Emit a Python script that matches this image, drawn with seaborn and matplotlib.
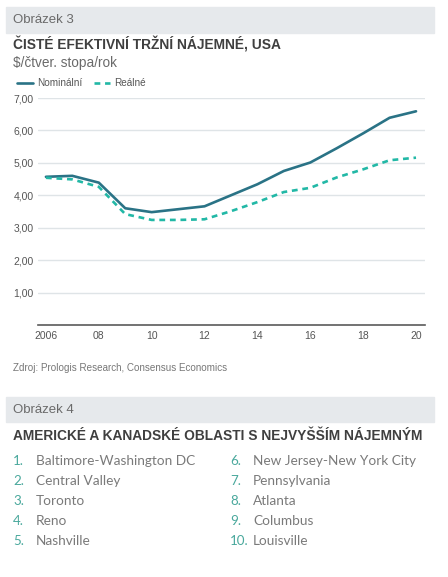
import matplotlib
matplotlib.use("Agg")
import matplotlib.pyplot as plt
import seaborn as sns
import pandas as pd
from matplotlib.patches import Rectangle

years = list(range(2006, 2021))
nominal = [4.57, 4.60, 4.39, 3.60, 3.48, 3.57, 3.66, 4.00, 4.34, 4.75, 5.01, 5.45, 5.91, 6.39, 6.59]
real = [4.54, 4.49, 4.26, 3.42, 3.24, 3.24, 3.26, 3.51, 3.79, 4.10, 4.23, 4.55, 4.80, 5.08, 5.16]
series_names = ["Nominální", "Reálné"]
xtick_vals = [2006, 2008, 2010, 2012, 2014, 2016, 2018, 2020]
xtick_labels = ["2006", "08", "10", "12", "14", "16", "18", "20"]
ytick_vals = [1, 2, 3, 4, 5, 6, 7]
ytick_labels = ["1,00", "2,00", "3,00", "4,00", "5,00", "6,00", "7,00"]
regions = ["Baltimore-Washington DC", "Central Valley", "Toronto", "Reno", "Nashville",
           "New Jersey-New York City", "Pennsylvania", "Atlanta", "Columbus", "Louisville"]

sns.set_theme(style="white")
plt.rcParams['font.family'] = ['Liberation Sans', 'DejaVu Sans']

W, H = 448, 577
fig = plt.figure(figsize=(W / 100, H / 100), dpi=100)

def fx(x):
    return x / W

def fy(y):
    return 1 - y / H

# header bands
for y0, y1 in [(7, 33), (397, 422)]:
    fig.patches.append(Rectangle((fx(6), fy(y1)), fx(434) - fx(6), fy(y0) - fy(y1),
                                 transform=fig.transFigure, color="#e6e9ec", zorder=0))

fig.text(fx(13), fy(20), "Obrázek 3", fontsize=9.5, color="#6a6a6a", va="center", ha="left")
fig.text(fx(13), fy(45), "ČISTÉ EFEKTIVNÍ TRŽNÍ NÁJEMNÉ, USA", fontsize=9.9, fontweight="bold",
         color="#3f3f3f", va="center", ha="left")
fig.text(fx(13), fy(63), "$/čtver. stopa/rok", fontsize=9.8, color="#6a6a6a", va="center", ha="left")

ax = fig.add_axes([fx(38), fy(325), fx(425) - fx(38), fy(98) - fy(325)])

df = pd.DataFrame({
    "year": years * 2,
    "value": nominal + real,
    "series": [series_names[0]] * len(years) + [series_names[1]] * len(years),
})
sns.lineplot(data=df, x="year", y="value", hue="series", style="series",
             palette={series_names[0]: "#2a7386", series_names[1]: "#22b8a6"},
             dashes={series_names[0]: "", series_names[1]: (2.2, 1.8)},
             linewidth=1.9, ax=ax, legend=True)

ax.set_xlim(2005.70, 2020.34)
ax.set_ylim(0, 7)
ax.set_xticks(xtick_vals)
ax.set_xticklabels(xtick_labels)
ax.set_yticks(ytick_vals)
ax.set_yticklabels(ytick_labels)
ax.set_xlabel("")
ax.set_ylabel("")
ax.grid(axis="y", color="#dfe4e7", linewidth=1.0)
ax.set_axisbelow(True)
for s in ["top", "right", "left"]:
    ax.spines[s].set_visible(False)
ax.spines["bottom"].set_color("#5a5a5a")
ax.spines["bottom"].set_linewidth(1.2)
ax.tick_params(axis="both", length=0, labelsize=7.5, colors="#555555", pad=4)
ax.tick_params(axis="y", pad=3)
ax.patch.set_alpha(0)

handles, labels = ax.get_legend_handles_labels()
ax.legend(handles, labels, loc="center left", bbox_to_anchor=(fx(8), fy(83)),
          bbox_transform=fig.transFigure, ncol=2, frameon=False, fontsize=7.2,
          handlelength=1.6, handletextpad=0.4, columnspacing=1.2, labelcolor="#555555")

fig.text(fx(13), fy(368), "Zdroj: Prologis Research, Consensus Economics", fontsize=7.1,
         color="#777777", va="center", ha="left")

fig.text(fx(13), fy(410), "Obrázek 4", fontsize=9.5, color="#6a6a6a", va="center", ha="left")
fig.text(fx(13), fy(436), "AMERICKÉ A KANADSKÉ OBLASTI S NEJVYŠŠÍM NÁJEMNÝM", fontsize=9.9,
         fontweight="bold", color="#3f3f3f", va="center", ha="left")

for i, name in enumerate(regions):
    col = i // 5
    row = i % 5
    y = 461 + row * 20
    xn = 13 if col == 0 else 230
    xt = 36 if col == 0 else 253
    fig.text(fx(xn), fy(y), f"{i + 1}.", fontsize=9.6, color="#49a89c", va="center", ha="left",
             family=["Lato", "DejaVu Sans"])
    fig.text(fx(xt), fy(y), name, fontsize=9.8, color="#7a7a7a", va="center", ha="left",
             family=["Lato", "DejaVu Sans"])

fig.savefig("out.png", dpi=100)
